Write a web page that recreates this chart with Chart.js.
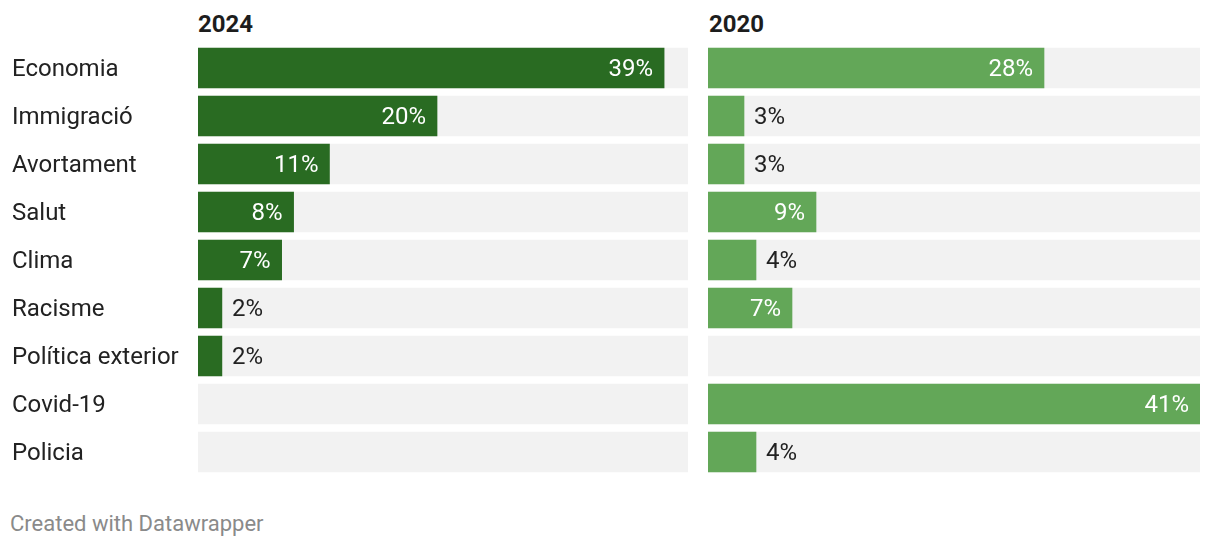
<!DOCTYPE html>
<html><head><meta charset="utf-8">
<script src="https://cdn.jsdelivr.net/npm/chart.js@4/dist/chart.umd.min.js"></script>
<style>
html,body{margin:0;padding:0;background:#fff;width:1220px;height:548px;overflow:hidden;font-family:Roboto,sans-serif;}
.box{position:absolute;}
.hdr{position:absolute;top:10px;font:bold 24px/28px Roboto,sans-serif;color:#1d1d1d;}
.foot{position:absolute;left:10px;top:511px;font:22px/26px Roboto,sans-serif;color:#8a8a8a;}
</style></head>
<body>
<div class="hdr" style="left:198px">2024</div>
<div class="hdr" style="left:709px">2020</div>
<div class="box" style="left:0;top:44px;width:688px;height:432px"><canvas id="c1"></canvas></div>
<div class="box" style="left:708px;top:44px;width:492px;height:432px"><canvas id="c2"></canvas></div>
<div class="foot">Created with Datawrapper</div>
<script>
const categories = ["Economia","Immigració","Avortament","Salut","Clima","Racisme","Política exterior","Covid-19","Policia"];
const values2024 = [39,20,11,8,7,2,2,null,null];
const values2020 = [28,3,3,9,4,7,null,41,4];
const scaleMax = 41;
const track = categories.map(() => scaleMax);

const valueLabels = {
  id: 'valueLabels',
  afterDatasetsDraw(chart) {
    const ctx = chart.ctx;
    const meta = chart.getDatasetMeta(1);
    const data = chart.data.datasets[1].data;
    ctx.save();
    ctx.font = '24px Roboto, sans-serif';
    ctx.textBaseline = 'middle';
    meta.data.forEach((bar, i) => {
      const v = data[i];
      if (v === null || v === undefined) return;
      const txt = v + '%';
      const w = bar.x - bar.base;
      if (w > 70) {
        ctx.fillStyle = '#ffffff';
        ctx.textAlign = 'right';
        ctx.fillText(txt, bar.x - 11, bar.y + 2);
      } else {
        ctx.fillStyle = '#222222';
        ctx.textAlign = 'left';
        ctx.fillText(txt, bar.x + 10, bar.y + 2);
      }
    });
    ctx.restore();
  }
};

function makeChart(id, values, color, showLabels) {
  const yScale = {
    display: showLabels,
    grid: {display: false, drawTicks: false},
    border: {display: false},
    ticks: {crossAlign: 'far', padding: 0, labelOffset: 2, color: '#222222', font: {family: 'Roboto', size: 24}}
  };
  if (showLabels) {
    yScale.afterFit = function(scale) {
      scale.width = 186;
      scale.paddingTop = 0;
      scale.paddingBottom = 0;
    };
  }
  return new Chart(document.getElementById(id), {
    type: 'bar',
    data: {
      labels: categories,
      datasets: [
        {data: track, backgroundColor: '#f2f2f2', grouped: false, order: 2, barThickness: 40},
        {data: values, backgroundColor: color, grouped: false, order: 1, barThickness: 40}
      ]
    },
    options: {
      indexAxis: 'y',
      responsive: true,
      maintainAspectRatio: false,
      animation: false,
      events: [],
      layout: {padding: {left: showLabels ? 12 : 0, right: 0, top: 0, bottom: 0}},
      plugins: {legend: {display: false}, tooltip: {enabled: false}},
      scales: {
        x: {display: false, min: 0, max: scaleMax},
        y: yScale
      }
    },
    plugins: [valueLabels]
  });
}
makeChart('c1', values2024, '#296b22', true);
makeChart('c2', values2020, '#63a758', false);
</script>
</body></html>
